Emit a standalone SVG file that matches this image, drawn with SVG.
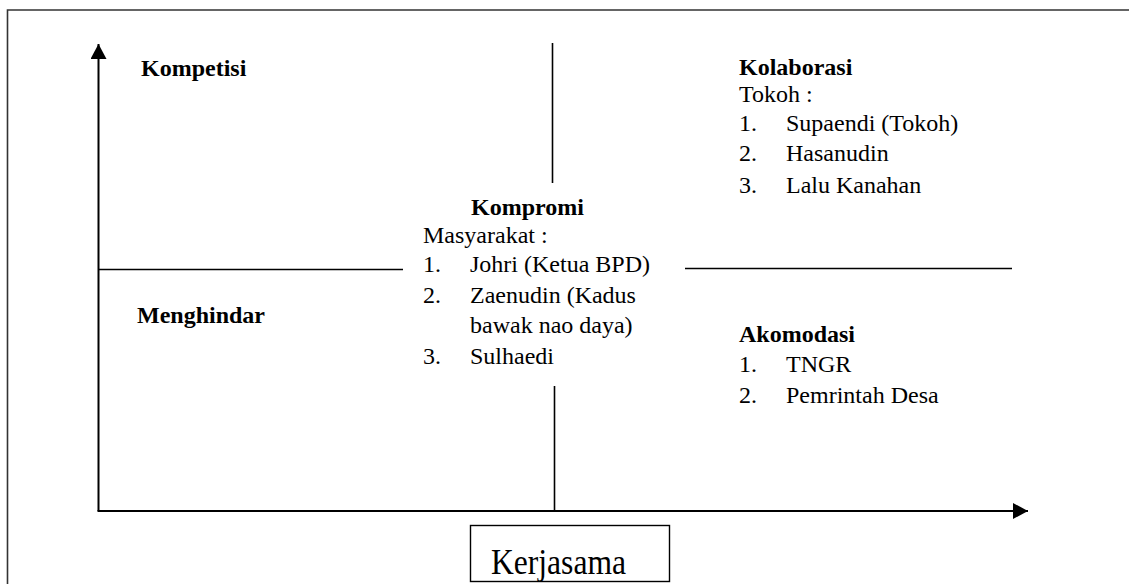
<svg xmlns="http://www.w3.org/2000/svg" width="1129" height="584" viewBox="0 0 1129 584">
<style>
text{font-family:"Liberation Serif","Times New Roman",serif;font-size:24px;fill:#000}
.b{font-weight:bold}
.ax{stroke:#000;stroke-width:2;fill:none}
.ln{stroke:#000;stroke-width:1.6;fill:none}
</style>
<defs>
<marker id="ah" markerWidth="16" markerHeight="16" refX="15" refY="8" orient="auto" markerUnits="userSpaceOnUse">
<path d="M0,0 L15,8 L0,16 Z" fill="#000"/>
</marker>
</defs>
<rect width="1129" height="584" fill="#fff"/>
<g id="frame">
<path d="M7.5,584 L7.5,10 L1129,10" stroke="#333" stroke-width="1.6" fill="none"/>
</g>
<g id="connectors">
<line class="ax" x1="98.5" y1="511" x2="98.5" y2="44" marker-end="url(#ah)"/>
<line class="ax" x1="97.5" y1="511" x2="1028" y2="511" marker-end="url(#ah)"/>
<line class="ln" x1="552.5" y1="43" x2="552.5" y2="183"/>
<line class="ln" x1="554.5" y1="386" x2="554.5" y2="511"/>
<line class="ln" x1="98" y1="269.5" x2="403" y2="269.5"/>
<line class="ln" x1="685" y1="268.5" x2="1012" y2="268.5"/>
</g>
<g id="kompetisi">
<text class="b" x="141" y="76">Kompetisi</text>
</g>
<g id="kolaborasi">
<text class="b" x="739" y="75">Kolaborasi</text>
<text x="739" y="102">Tokoh :</text>
<text x="739" y="131">1.</text><text x="786" y="131">Supaendi (Tokoh)</text>
<text x="739" y="161">2.</text><text x="786" y="161">Hasanudin</text>
<text x="739" y="193">3.</text><text x="786" y="193">Lalu Kanahan</text>
</g>
<g id="kompromi">
<text class="b" x="471" y="215">Kompromi</text>
<text x="423" y="243">Masyarakat :</text>
<text x="423" y="272">1.</text><text x="470" y="272">Johri (Ketua BPD)</text>
<text x="423" y="303">2.</text><text x="470" y="303">Zaenudin (Kadus</text>
<text x="470" y="333">bawak nao daya)</text>
<text x="423" y="364">3.</text><text x="470" y="364">Sulhaedi</text>
</g>
<g id="menghindar">
<text class="b" x="137" y="323">Menghindar</text>
</g>
<g id="akomodasi">
<text class="b" x="739" y="342">Akomodasi</text>
<text x="739" y="372">1.</text><text x="786" y="372">TNGR</text>
<text x="739" y="403">2.</text><text x="786" y="403">Pemrintah Desa</text>
</g>
<g id="kerjasama">
<rect x="470.5" y="525.5" width="199" height="56" fill="#fff" stroke="#000" stroke-width="1.4"/>
<text x="491" y="574" style="font-size:35px" textLength="135" lengthAdjust="spacingAndGlyphs">Kerjasama</text>
</g>
</svg>
